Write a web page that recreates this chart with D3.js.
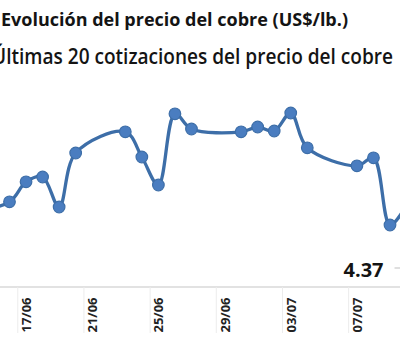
<!DOCTYPE html>
<html><head><meta charset="utf-8">
<script src="https://cdn.jsdelivr.net/npm/d3@7/dist/d3.min.js"></script>
<style>html,body{margin:0;padding:0;background:#fff;overflow:hidden}</style>
</head><body><svg id="c" width="400" height="361"></svg>
<script>
const title = "Evolución del precio del cobre (US$/lb.)";
const subtitle = "Últimas 20 cotizaciones del precio del cobre";
const dates = ["2025-06-13","2025-06-16","2025-06-17","2025-06-18","2025-06-19","2025-06-20",
  "2025-06-23","2025-06-24","2025-06-25","2025-06-26","2025-06-27",
  "2025-06-30","2025-07-01","2025-07-02","2025-07-03","2025-07-04",
  "2025-07-07","2025-07-08","2025-07-09","2025-07-10"];
const prices = [4.345,4.378,4.428,4.440,4.365,4.500,4.553,4.490,4.420,4.598,4.560,
  4.553,4.565,4.555,4.600,4.513,4.468,4.488,4.320,4.370];
const tickDates = ["2025-06-17","2025-06-21","2025-06-25","2025-06-29","2025-07-03","2025-07-07"];
const lastLabel = "4.37";

const parse = d3.utcParse("%Y-%m-%d");
const fmt = d3.utcFormat("%d/%m");
const data = dates.map((d,i)=>({date:parse(d), v:prices[i]}));
const svg = d3.select("#c");

const x = d3.scaleUtc().domain([parse("2025-06-16"), parse("2025-07-09")]).range([9.5, 390]);
const y = d3.scaleLinear().domain([4.0, 4.7]).range([353, 73]);
const halfDay = 12*3600*1000;

// titles
svg.append("text").attr("x",1).attr("y",26).text(title)
  .attr("font-family","'Open Sans', sans-serif").attr("font-weight",700).attr("font-size",17)
  .attr("fill","#141414").attr("textLength",347).attr("lengthAdjust","spacingAndGlyphs");
svg.append("text").attr("x",-8).attr("y",64).text(subtitle)
  .attr("font-family","'Open Sans', sans-serif").attr("font-weight",600).attr("font-size",22)
  .attr("fill","#141414").attr("textLength",401).attr("lengthAdjust","spacingAndGlyphs");

// axis
const axisY = 287;
const ax = svg.append("g").attr("transform",`translate(0,${axisY})`);
ax.append("line").attr("x1",0).attr("x2",400).attr("y1",0).attr("y2",0)
  .attr("stroke","#d9d9d9").attr("stroke-width",1.5);
const td = tickDates.map(parse);
ax.selectAll("line.tk").data(td).join("line").attr("class","tk")
  .attr("x1",d=>x(new Date(d.getTime()-halfDay))).attr("x2",d=>x(new Date(d.getTime()-halfDay)))
  .attr("y1",0).attr("y2",46).attr("stroke","#ececec").attr("stroke-width",1);
ax.selectAll("text.tl").data(td).join("text").attr("class","tl")
  .attr("transform",d=>`translate(${x(d)+5},${28}) rotate(-90)`)
  .attr("text-anchor","middle").attr("font-family","'Open Sans', sans-serif")
  .attr("font-weight",700).attr("font-size",13).attr("fill","#222").text(d=>fmt(d));

// line
const line = d3.line().x(d=>x(d.date)).y(d=>y(d.v)).curve(d3.curveCatmullRom.alpha(0.5));
svg.append("path").datum(data).attr("d",line).attr("fill","none")
  .attr("stroke","#3d6ea8").attr("stroke-width",3.3);
svg.selectAll("circle.pt").data(data).join("circle").attr("class","pt")
  .attr("cx",d=>x(d.date)).attr("cy",d=>y(d.v)).attr("r",5.8)
  .attr("fill","#4a7dc0").attr("stroke","#3d6ea8").attr("stroke-width",1.2);

// last value label
const last = data[data.length-1];
const lx = x(last.date), ly = y(last.v);
svg.append("text").attr("x",lx-23).attr("y",ly+72).attr("text-anchor","end")
  .attr("font-family","'Open Sans', sans-serif").attr("font-weight",700).attr("font-size",20)
  .attr("fill","#141414").text(lastLabel);
svg.append("line").attr("x1",lx-12).attr("x2",lx).attr("y1",ly+63).attr("y2",ly+63)
  .attr("stroke","#bfbfbf").attr("stroke-width",1);
</script></body></html>
